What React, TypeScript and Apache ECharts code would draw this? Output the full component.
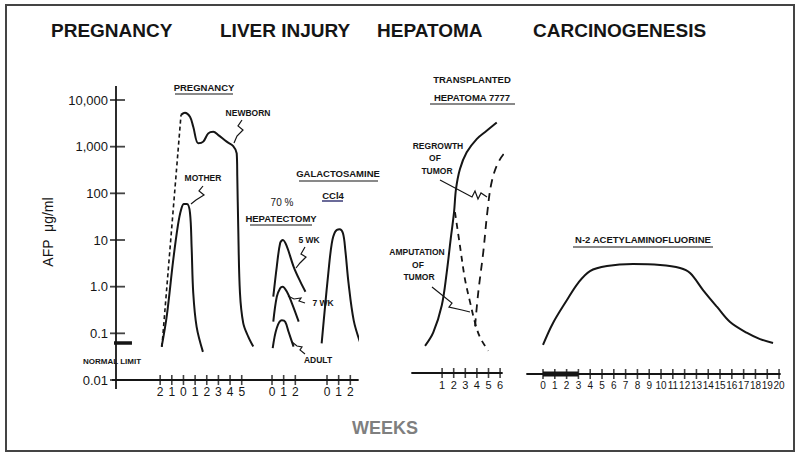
import React, { useEffect, useRef } from "react";
import * as echarts from "echarts";

// ---------- DATA ----------
const Y_TICKS = [0.01, 0.1, 1, 10, 100, 1000, 10000];
const Y_TICK_LABELS = ["0.01", "0.1", "1.0", "10", "100", "1,000", "10,000"];

// Pregnancy panel (weeks relative to birth)
const PREG_TICKS = [-2, -1, 0, 1, 2, 3, 4, 5];
const PREG_TICK_LABELS = ["2", "1", "0", "1", "2", "3", "4", "5"];
const FETAL_DASHED = [[-1.85, 0.051], [-0.21, 4800]];
const NEWBORN = [
  [-0.21, 4800], [0.13, 5350], [0.56, 4380], [0.84, 2680], [1.27, 1180], [1.7, 1280],
  [2.13, 1930], [2.56, 2090], [2.99, 1770], [3.71, 1280], [4.27, 1030], [4.57, 720],
  [4.62, 227], [4.7, 19], [4.85, 0.73], [5.13, 0.166], [5.56, 0.085], [5.99, 0.052],
];
const MOTHER = [
  [-1.87, 0.052], [-1.42, 0.25], [-0.88, 3.7], [-0.47, 21], [-0.21, 44], [0.04, 59],
  [0.3, 59], [0.56, 38], [0.7, 7.1], [0.84, 0.73], [1.13, 0.137], [1.67, 0.04],
];
const NORMAL_LIMIT = 0.062;

// Liver injury: 70% hepatectomy
const HX_TICKS = [0, 1, 2];
const HX_5WK = [[0.11, 0.61], [0.41, 2.7], [0.7, 8.6], [0.93, 10], [1.28, 7.2], [1.85, 2.7], [2.43, 1.28], [2.87, 0.78]];
const HX_7WK = [[0.11, 0.178], [0.41, 0.61], [0.7, 0.92], [0.9, 1.0], [1.28, 0.78], [1.71, 0.44], [2.29, 0.178]];
const HX_ADULT = [[0.06, 0.048], [0.41, 0.13], [0.84, 0.19], [1.13, 0.178], [1.42, 0.108], [1.85, 0.052]];

// Liver injury: galactosamine / CCl4
const CCL4_TICKS = [0, 1, 2];
const CCL4 = [
  [-0.46, 0.061], [-0.17, 0.37], [0.11, 1.93], [0.41, 8.5], [0.7, 15], [1.07, 17],
  [1.37, 13.9], [1.57, 6.1], [1.85, 1.18], [2.29, 0.19], [2.87, 0.061],
];

// Hepatoma 7777
const HEP_TICKS = [1, 2, 3, 4, 5, 6];
const HEP_SOLID = [
  [-0.47, 0.038], [0.24, 0.074], [0.97, 0.28], [1.4, 1.44], [1.74, 7.4], [2.03, 28],
  [2.2, 88], [2.54, 235], [3.12, 535], [3.98, 1030], [4.84, 1550], [5.71, 2340],
];
const HEP_AMPUTATION = [[2.11, 28], [2.54, 5.3], [2.97, 1.03], [3.41, 0.33], [3.84, 0.12], [4.27, 0.058], [4.98, 0.03]];
const HEP_REGROWTH = [[3.84, 0.1], [4.12, 0.54], [4.55, 3.9], [4.9, 28], [5.27, 122], [5.85, 327], [6.71, 630], [8.0, 1030]];

// Carcinogenesis: N-2 acetylaminofluorine
const AAF_TICKS = Array.from({ length: 21 }, (_, i) => i);
const AAF = [
  [0, 0.042], [0.85, 0.124], [2.03, 0.385], [2.97, 0.89], [3.98, 1.61], [5.42, 2.06],
  [7.63, 2.27], [9.92, 2.17], [11.61, 1.87], [12.46, 1.46], [13.56, 0.63], [14.75, 0.273],
  [15.85, 0.13], [17.29, 0.076], [18.39, 0.056], [19.49, 0.046],
];
const AAF_TREATMENT = [0, 3];

// ---------- LAYOUT ----------
const PREG_OFFSET = 5.79;
const HX_OFFSET = 13.39;
const CCL4_OFFSET = 18.11;
const FONT = "'Liberation Sans', Arial, Helvetica, sans-serif";
const INK = "#151515";

const shift = (arr: number[][], off: number) => arr.map(([x, y]) => [x + off, y]);

export default function App() {
  const ref = useRef<HTMLDivElement>(null);

  useEffect(() => {
    document.body.style.margin = "0";
    const chart = echarts.init(ref.current!, null, { renderer: "svg" });

    const mainTickVals = [
      ...PREG_TICKS.map((t) => t + PREG_OFFSET),
      ...HX_TICKS.map((t) => t + HX_OFFSET),
      ...CCL4_TICKS.map((t) => t + CCL4_OFFSET),
    ];
    const mainTickLabels = [
      ...PREG_TICK_LABELS,
      ...HX_TICKS.map(String),
      ...CCL4_TICKS.map(String),
    ];
    const labelFor = (vals: number[], labels: string[]) => (v: number) => {
      let best = 0;
      for (let i = 1; i < vals.length; i++) if (Math.abs(vals[i] - v) < Math.abs(vals[best] - v)) best = i;
      return labels[best];
    };

    const logY = (show: boolean) => ({
      type: "log",
      logBase: 10,
      min: 0.01,
      max: 10000,
      show,
      splitLine: { show: false },
    });

    const curve = (data: number[][], xi: number, dashed?: number[] | null, width = 2) => ({
      type: "line",
      xAxisIndex: xi,
      yAxisIndex: xi,
      data,
      smooth: 0.35,
      symbol: "none",
      clip: false,
      silent: true,
      lineStyle: { color: INK, width, type: dashed || "solid" },
    });

    const ticks = (xs: number[], xi: number, y = 0.01) => ({
      type: "scatter",
      xAxisIndex: xi,
      yAxisIndex: xi,
      data: xs.map((x) => [x, y]),
      symbol: "rect",
      symbolSize: [1.6, 10],
      clip: false,
      silent: true,
      itemStyle: { color: INK },
    });

    const txt = (x: number, y: number, text: string, size: number, extra: any = {}) => ({
      type: "text",
      x,
      y,
      silent: true,
      style: {
        text,
        fill: INK,
        font: `${extra.weight || "normal"} ${size}px ${FONT}`,
        textAlign: extra.align || "center",
        align: extra.align || "center",
        textVerticalAlign: "middle",
        verticalAlign: "middle",
        ...(extra.style || {}),
      },
      ...(extra.el || {}),
    });
    const ln = (x1: number, y1: number, x2: number, y2: number, w = 1.2, color = INK) => ({
      type: "line",
      silent: true,
      shape: { x1, y1, x2, y2 },
      style: { stroke: color, lineWidth: w },
    });
    const squiggle = (pts: number[][]) => ({
      type: "polyline",
      silent: true,
      shape: { points: pts },
      style: { stroke: INK, lineWidth: 1.2, fill: "none" },
    });

    const option: any = {
      animation: false,
      backgroundColor: "#ffffff",
      grid: [
        { left: 116, right: 442, top: 100, bottom: 79 },
        { left: 412, right: 298, top: 93, bottom: 86 },
        { left: 527, right: 20, top: 94, bottom: 85 },
      ],
      xAxis: [
        {
          gridIndex: 0,
          type: "value",
          min: 0,
          max: 20.77,
          splitLine: { show: false },
          axisLine: { lineStyle: { color: INK, width: 1.8 } },
          axisTick: { show: false },
          axisLabel: {
            customValues: mainTickVals,
            formatter: labelFor(mainTickVals, mainTickLabels),
            color: INK,
            fontFamily: FONT,
            fontSize: 12,
            margin: 6,
          },
        },
        {
          gridIndex: 1,
          type: "value",
          min: -1.595,
          max: 6.164,
          splitLine: { show: false },
          axisLine: { lineStyle: { color: INK, width: 1.8 } },
          axisTick: { show: false },
          axisLabel: {
            customValues: HEP_TICKS,
            formatter: (v: number) => String(Math.round(v)),
            color: INK,
            fontFamily: FONT,
            fontSize: 11,
            margin: 6,
          },
        },
        {
          gridIndex: 2,
          type: "value",
          min: -1.356,
          max: 20.08,
          splitLine: { show: false },
          axisLine: { lineStyle: { color: INK, width: 1.8 } },
          axisTick: { show: false },
          axisLabel: {
            customValues: AAF_TICKS,
            formatter: (v: number) => String(Math.round(v)),
            color: INK,
            fontFamily: FONT,
            fontSize: 10,
            margin: 6,
          },
        },
      ],
      yAxis: [
        {
          gridIndex: 0,
          ...logY(true),
          axisLine: { show: true, lineStyle: { color: INK, width: 1.8 } },
          axisTick: { show: false },
          axisLabel: {
            color: INK,
            fontFamily: FONT,
            fontSize: 13,
            margin: 8,
            formatter: (v: number) => {
              const e = Math.round(Math.log10(v));
              const i = Y_TICKS.findIndex((t) => Math.round(Math.log10(t)) === e);
              return i >= 0 ? Y_TICK_LABELS[i] : "";
            },
          },
        },
        { gridIndex: 1, ...logY(false) },
        { gridIndex: 2, ...logY(false) },
      ],
      series: [
        // Pregnancy
        curve(shift(FETAL_DASHED, PREG_OFFSET), 0, [4, 3], 1.6),
        curve(shift(NEWBORN, PREG_OFFSET), 0),
        curve(shift(MOTHER, PREG_OFFSET), 0),
        // Liver injury
        curve(shift(HX_5WK, HX_OFFSET), 0),
        curve(shift(HX_7WK, HX_OFFSET), 0),
        curve(shift(HX_ADULT, HX_OFFSET), 0),
        curve(shift(CCL4, CCL4_OFFSET), 0),
        {
          type: "line",
          xAxisIndex: 0,
          yAxisIndex: 0,
          data: [[-2.06, NORMAL_LIMIT], [1.37, NORMAL_LIMIT]],
          symbol: "none",
          clip: false,
          silent: true,
          lineStyle: { color: INK, width: 3.5 },
        },
        ticks(mainTickVals, 0),
        {
          type: "scatter",
          xAxisIndex: 0,
          yAxisIndex: 0,
          data: Y_TICKS.map((v) => [0, v]),
          symbol: "rect",
          symbolSize: [15, 1.8],
          symbolOffset: [1.5, 0],
          clip: false,
          silent: true,
          itemStyle: { color: INK },
        },
        // Hepatoma
        curve(HEP_SOLID, 1),
        curve(HEP_AMPUTATION, 1, [6, 5], 1.8),
        curve(HEP_REGROWTH, 1, [8, 6], 1.8),
        ticks(HEP_TICKS, 1),
        // Carcinogenesis
        curve(AAF, 2),
        {
          type: "line",
          xAxisIndex: 2,
          yAxisIndex: 2,
          data: AAF_TREATMENT.map((x) => [x, 0.01]),
          symbol: "none",
          clip: false,
          silent: true,
          lineStyle: { color: INK, width: 5 },
        },
        ticks(AAF_TICKS, 2),
      ],
      graphic: [
        {
          type: "rect",
          silent: true,
          shape: { x: 6, y: 5, width: 788, height: 446 },
          style: { fill: "none", stroke: "#444", lineWidth: 2 },
        },
        // Section titles
        txt(51, 30, "PREGNANCY", 19, { weight: "bold", align: "left" }),
        txt(220, 30, "LIVER INJURY", 19, { weight: "bold", align: "left" }),
        txt(377, 30, "HEPATOMA", 19, { weight: "bold", align: "left" }),
        txt(533, 30, "CARCINOGENESIS", 19, { weight: "bold", align: "left" }),
        txt(385, 428, "WEEKS", 18, { weight: "bold", style: { fill: "#7f7f7f" } }),
        // y axis title and extensions
        txt(48, 232, "AFP  μg/ml", 14, { el: { rotation: Math.PI / 2 } }),
        ln(116, 86, 116, 100, 1.8),
        ln(116, 380, 116, 389, 1.8),
        ln(112, 380, 116, 380, 1.8),
        txt(112, 361, "NORMAL LIMIT", 8, { weight: "bold" }),
        // Pregnancy annotations
        txt(204, 87, "PREGNANCY", 9.5, { weight: "bold" }),
        ln(175, 94, 233, 94, 1.2),
        txt(248, 113, "NEWBORN", 8.5, { weight: "bold" }),
        squiggle([[242, 120], [238, 126], [243, 130], [237, 136], [234, 143]]),
        txt(203, 178, "MOTHER", 8.5, { weight: "bold" }),
        squiggle([[203, 186], [199, 191], [204, 195], [196, 200], [191, 204]]),
        // Liver injury annotations
        txt(338, 173, "GALACTOSAMINE", 9.5, { weight: "bold" }),
        ln(299, 181, 378, 181, 1.2),
        txt(333, 195, "CCl4", 9.5, { weight: "bold" }),
        ln(322, 201, 343, 201, 1.4, "#2c2c6e"),
        txt(282, 202, "70 %", 10),
        txt(281, 218, "HEPATECTOMY", 9.5, { weight: "bold" }),
        ln(250, 225, 312, 225, 1.2),
        txt(309, 240, "5 WK", 8.5, { weight: "bold" }),
        squiggle([[305, 247], [301, 254], [306, 257], [300, 263], [296, 268]]),
        txt(323, 303, "7 WK", 8.5, { weight: "bold" }),
        squiggle([[305, 303], [299, 301], [301, 298], [294, 299], [288, 296]]),
        txt(318, 360, "ADULT", 8.5, { weight: "bold" }),
        squiggle([[305, 354], [300, 350], [302, 347], [297, 346], [292, 342]]),
        // Hepatoma annotations
        txt(472, 79, "TRANSPLANTED", 9.5, { weight: "bold" }),
        txt(472, 97, "HEPATOMA 7777", 9.5, { weight: "bold" }),
        ln(430, 104, 515, 104, 1.2),
        txt(438, 146, "REGROWTH", 8.5, { weight: "bold" }),
        txt(435, 158, "OF", 8.5, { weight: "bold" }),
        txt(437, 171, "TUMOR", 8.5, { weight: "bold" }),
        squiggle([[440, 180], [472, 197], [475, 191], [478, 199], [481, 193], [487, 197]]),
        txt(417, 252, "AMPUTATION", 8.5, { weight: "bold" }),
        txt(418, 265, "OF", 8.5, { weight: "bold" }),
        txt(419, 277, "TUMOR", 8.5, { weight: "bold" }),
        squiggle([[432, 287], [452, 303], [449, 307], [462, 310], [470, 312]]),
        // Carcinogenesis annotation
        txt(643, 239, "N-2 ACETYLAMINOFLUORINE", 9.5, { weight: "bold" }),
        ln(573, 247, 713, 247, 1.2),
      ],
      series_: null,
    };
    delete option.series_;

    chart.setOption(option);
    return () => chart.dispose();
  }, []);

  return <div ref={ref} style={{ width: 800, height: 459 }} />;
}
